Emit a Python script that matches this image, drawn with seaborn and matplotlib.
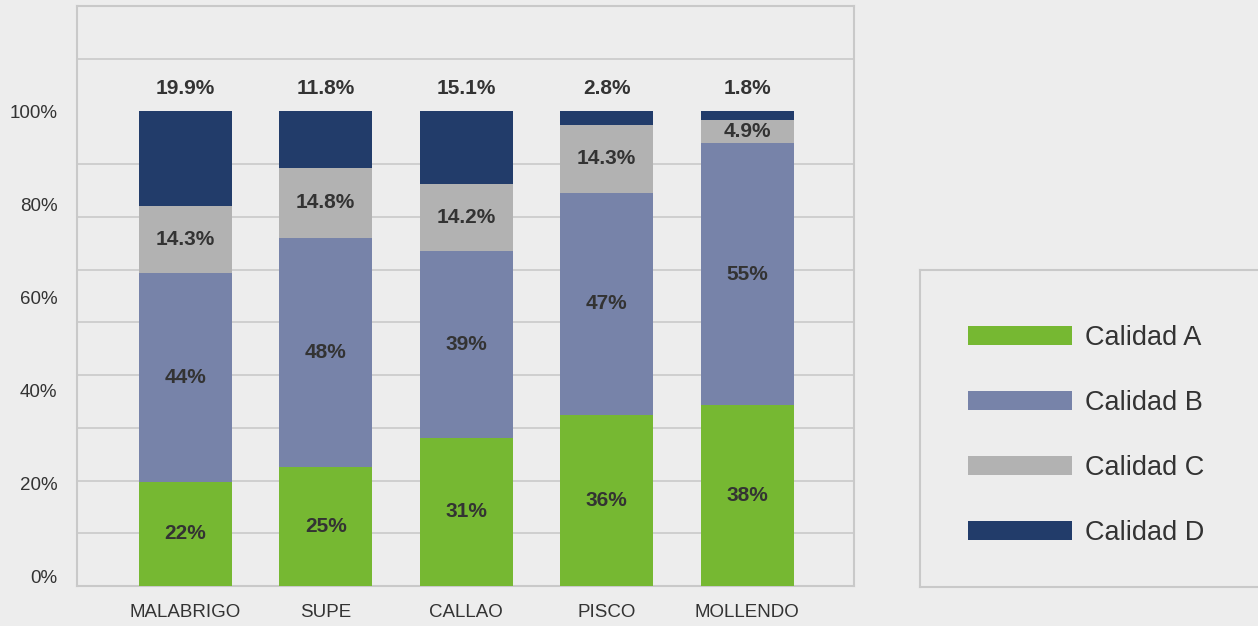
import matplotlib
matplotlib.use('Agg')
import matplotlib.pyplot as plt
from matplotlib.patches import Patch
import seaborn as sns
import pandas as pd
import numpy as np

ports = ['MALABRIGO', 'SUPE', 'CALLAO', 'PISCO', 'MOLLENDO']
calidad_a = [22, 25, 31, 36, 38]
calidad_b = [44, 48, 39, 47, 55]
calidad_c = [14.3, 14.8, 14.2, 14.3, 4.9]
calidad_d = [19.9, 11.8, 15.1, 2.8, 1.8]
series_names = ['Calidad A', 'Calidad B', 'Calidad C', 'Calidad D']
ytick_labels = ['0%', '20%', '40%', '60%', '80%', '100%']

colors = ['#76b832', '#7783a9', '#b2b2b2', '#223c6a']
bg = '#ededed'
grid_c = '#c9c9c9'
txt_c = '#333333'

sns.set_theme(style='white')
plt.rcParams['font.family'] = ['Liberation Sans', 'DejaVu Sans']

df = pd.DataFrame({'port': ports, 'A': calidad_a, 'B': calidad_b,
                   'C': calidad_c, 'D': calidad_d})
total = df[['A', 'B', 'C', 'D']].sum(axis=1)
shares = df[['A', 'B', 'C', 'D']].div(total, axis=0) * 100
cum = shares.cumsum(axis=1)
cum['port'] = df['port']

fig = plt.figure(figsize=(12.58, 6.26), dpi=100, facecolor=bg)
ax = fig.add_axes([77 / 1258, 40 / 626, 777 / 1258, 580 / 626])
ax.set_facecolor(bg)

# stacked bars: draw cumulative totals from top to bottom
for key, col in zip(['D', 'C', 'B', 'A'], colors[::-1]):
    sns.barplot(data=cum, x='port', y=key, order=ports, color=col,
                width=0.66, saturation=1, linewidth=0, edgecolor='none',
                ax=ax, zorder=3)

ax.set_xlim(-0.77, 4.76)
ax.set_ylim(0, 122.1)
ax.set_yticks(np.arange(0, 123, 100 / 9), minor=True)
ax.grid(True, which='minor', axis='y', color=grid_c, lw=1.2, zorder=0)
ax.grid(False, which='major')
ax.set_yticks(np.linspace(2.1, 100, 6))
ax.set_yticklabels(ytick_labels)
ax.tick_params(axis='y', which='both', length=0, pad=14, labelsize=13.5, labelcolor=txt_c)
ax.tick_params(axis='x', length=0, pad=13, labelsize=13.5, labelcolor=txt_c)
ax.set_xlabel('')
ax.set_ylabel('')
for s in ax.spines.values():
    s.set_color(grid_c)
    s.set_linewidth(1.5)

# value labels
vals = df[['A', 'B', 'C', 'D']]
for i in range(len(ports)):
    lower = 0
    for j, key in enumerate(['A', 'B', 'C']):
        upper = cum.loc[i, key]
        v = vals.loc[i, key]
        txt = f'{v:.1f}%' if key == 'C' else f'{v:.0f}%'
        ax.text(i, (lower + upper) / 2, txt, ha='center', va='center',
                fontsize=15, fontweight='bold', color=txt_c, zorder=5)
        lower = upper
    ax.text(i, 104.8, f"{vals.loc[i, 'D']:.1f}%", ha='center', va='center',
            fontsize=15, fontweight='bold', color=txt_c, zorder=5)

# legend box
lax = fig.add_axes([920 / 1258, 39 / 626, 345 / 1258, 317 / 626])
lax.set_facecolor(bg)
lax.set_xticks([])
lax.set_yticks([])
for s in lax.spines.values():
    s.set_color(grid_c)
    s.set_linewidth(1.5)
handles = [Patch(facecolor=c, edgecolor='none', label=n) for c, n in zip(colors, series_names)]
leg = lax.legend(handles=handles, loc='center left', bbox_to_anchor=(0.10, 0.478),
                 frameon=False, fontsize=19.5, handlelength=3.85, handleheight=0.74,
                 handletextpad=0.48, labelspacing=1.44, borderpad=0)
for t in leg.get_texts():
    t.set_color(txt_c)

fig.savefig('out.png', dpi=100, facecolor=bg)
